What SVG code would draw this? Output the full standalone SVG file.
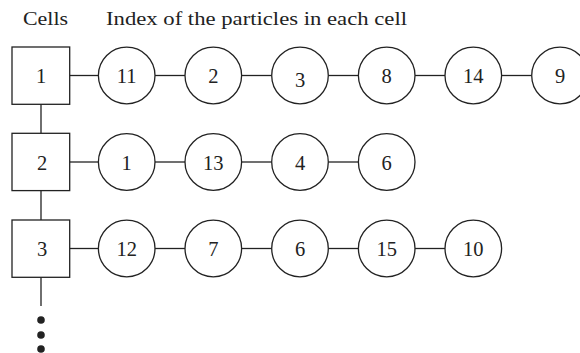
<svg xmlns="http://www.w3.org/2000/svg" width="580" height="353" viewBox="0 0 580 353">
<style>
.s{fill:#fff;stroke:#222;stroke-width:1.3}
.l{stroke:#222;stroke-width:1.3;fill:none}
.t{font-family:"Liberation Serif","Times New Roman",serif;font-size:20.5px;fill:#222;text-anchor:middle}
.h{font-family:"Liberation Serif","Times New Roman",serif;font-size:19px;fill:#222}
</style>
<rect width="580" height="353" fill="#fff"/>
<text class="h" x="23" y="25" textLength="45" lengthAdjust="spacingAndGlyphs">Cells</text>
<text class="h" x="106" y="25" textLength="301" lengthAdjust="spacingAndGlyphs">Index of the particles in each cell</text>
<g id="connectors">
<line class="l" x1="41" y1="104" x2="41" y2="133"/>
<line class="l" x1="41" y1="191" x2="41" y2="220"/>
<line class="l" x1="41" y1="277" x2="41" y2="306"/>
<line class="l" x1="70" y1="75.5" x2="98.4" y2="75.5"/>
<line class="l" x1="155" y1="75.5" x2="185" y2="75.5"/>
<line class="l" x1="241.6" y1="75.5" x2="271.7" y2="75.5"/>
<line class="l" x1="328.3" y1="75.5" x2="358.4" y2="75.5"/>
<line class="l" x1="415" y1="75.5" x2="445" y2="75.5"/>
<line class="l" x1="501.6" y1="75.5" x2="531.7" y2="75.5"/>
<line class="l" x1="70" y1="162" x2="98.4" y2="162"/>
<line class="l" x1="155" y1="162" x2="185" y2="162"/>
<line class="l" x1="241.6" y1="162" x2="271.7" y2="162"/>
<line class="l" x1="328.3" y1="162" x2="358.4" y2="162"/>
<line class="l" x1="70" y1="248.5" x2="98.4" y2="248.5"/>
<line class="l" x1="155" y1="248.5" x2="185" y2="248.5"/>
<line class="l" x1="241.6" y1="248.5" x2="271.7" y2="248.5"/>
<line class="l" x1="328.3" y1="248.5" x2="358.4" y2="248.5"/>
<line class="l" x1="415" y1="248.5" x2="445" y2="248.5"/>
<circle cx="41" cy="320" r="3.8" fill="#222"/>
<circle cx="41" cy="335" r="3.8" fill="#222"/>
<circle cx="41" cy="349" r="3.8" fill="#222"/>
</g>
<g id="cell1"><rect class="s" x="12" y="47" width="57.7" height="57.3"/><text class="t" x="41" y="83">1</text></g>
<g id="cell2"><rect class="s" x="12" y="133.3" width="57.7" height="57.3"/><text class="t" x="42" y="169.5">2</text></g>
<g id="cell3"><rect class="s" x="12" y="220" width="57.7" height="57.3"/><text class="t" x="42" y="256">3</text></g>
<g id="p1_11"><circle class="s" cx="126.7" cy="75.5" r="28.3"/><text class="t" x="126.7" y="83">11</text></g>
<g id="p1_2"><circle class="s" cx="213.3" cy="75.5" r="28.3"/><text class="t" x="213.3" y="83">2</text></g>
<g id="p1_3"><circle class="s" cx="300" cy="75.5" r="28.3"/><text class="t" x="300" y="87">3</text></g>
<g id="p1_8"><circle class="s" cx="386.7" cy="75.5" r="28.3"/><text class="t" x="386.7" y="83">8</text></g>
<g id="p1_14"><circle class="s" cx="473.3" cy="75.5" r="28.3"/><text class="t" x="473.3" y="83">14</text></g>
<g id="p1_9"><circle class="s" cx="560" cy="75.5" r="28.3"/><text class="t" x="560" y="83">9</text></g>
<g id="p2_1"><circle class="s" cx="126.7" cy="162" r="28.3"/><text class="t" x="126.7" y="169.5">1</text></g>
<g id="p2_13"><circle class="s" cx="213.3" cy="162" r="28.3"/><text class="t" x="213.3" y="169.5">13</text></g>
<g id="p2_4"><circle class="s" cx="300" cy="162" r="28.3"/><text class="t" x="300" y="169.5">4</text></g>
<g id="p2_6"><circle class="s" cx="386.7" cy="162" r="28.3"/><text class="t" x="386.7" y="169.5">6</text></g>
<g id="p3_12"><circle class="s" cx="126.7" cy="248.5" r="28.3"/><text class="t" x="126.7" y="256">12</text></g>
<g id="p3_7"><circle class="s" cx="213.3" cy="248.5" r="28.3"/><text class="t" x="213.3" y="256">7</text></g>
<g id="p3_6"><circle class="s" cx="300" cy="248.5" r="28.3"/><text class="t" x="300" y="256">6</text></g>
<g id="p3_15"><circle class="s" cx="386.7" cy="248.5" r="28.3"/><text class="t" x="386.7" y="256">15</text></g>
<g id="p3_10"><circle class="s" cx="473.3" cy="248.5" r="28.3"/><text class="t" x="473.3" y="256">10</text></g>
</svg>
